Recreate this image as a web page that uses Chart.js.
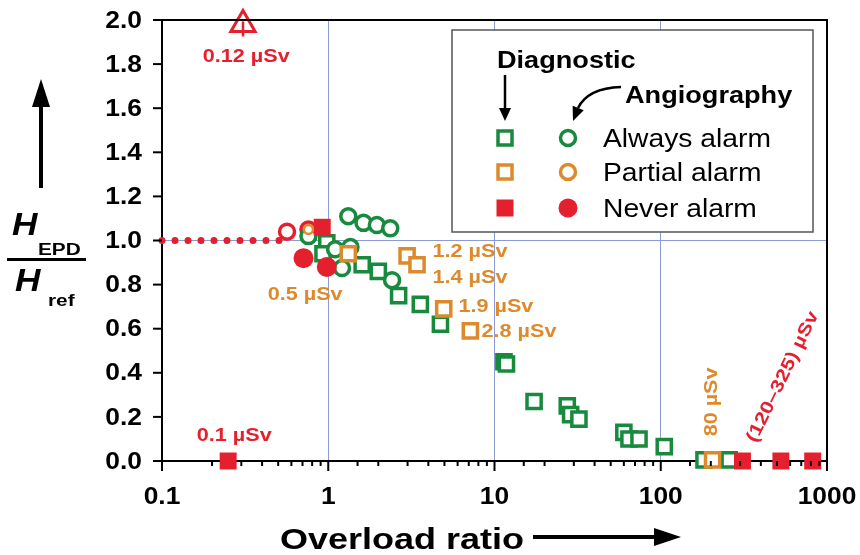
<!DOCTYPE html>
<html>
<head>
<meta charset="utf-8">
<script src="https://cdn.jsdelivr.net/npm/chart.js@4.4.1/dist/chart.umd.min.js"></script>
<style>
  html, body { margin: 0; padding: 0; background: #fff; }
  #chart { display: block; }
</style>
</head>
<body>
<canvas id="chart" width="860" height="555"></canvas>
<script>
// Diagnostic (squares)
const diagAlwaysX = [0.98, 0.93, 1.6, 2.0, 2.65, 3.58, 4.73, 11.4, 11.8, 17.3, 27.4, 28.7, 32.2, 60, 64.4, 74, 105, 182, 258];
const diagAlwaysY = [0.99, 0.94, 0.89, 0.86, 0.75, 0.71, 0.62, 0.45, 0.44, 0.27, 0.25, 0.21, 0.19, 0.13, 0.10, 0.10, 0.065, 0.005, 0.005];
const diagPartialX = [1.32, 2.98, 3.42, 4.95, 7.16, 205];
const diagPartialY = [0.94, 0.93, 0.89, 0.69, 0.59, 0.005];
const diagNeverX = [0.25, 0.92, 310, 528, 820];
const diagNeverY = [0, 1.06, 0, 0, 0];

// Angiography (circles)
const angioAlwaysX = [1.32, 1.63, 1.96, 2.36, 0.76, 1.1, 1.36, 1.21, 2.42];
const angioAlwaysY = [1.11, 1.08, 1.07, 1.055, 1.02, 0.96, 0.97, 0.875, 0.82];
const angioPartialX = [0.76];
const angioPartialY = [1.05];
const angioNeverX = [0.71, 0.98];
const angioNeverY = [0.92, 0.88];
const openRedX = [0.565, 0.76];
const openRedY = [1.04, 1.05];
const offScaleX = [0.307];
const offScaleY = [1.98];

// red dotted reference at 1.0
const refX = [0.1, 0.52];
const refY = [1, 1];

const xTickValues = [0.1, 1, 10, 100, 1000];
const xTickLabels = ['0.1', '1', '10', '100', '1000'];
const yTickLabels = ['0.0', '0.2', '0.4', '0.6', '0.8', '1.0', '1.2', '1.4', '1.6', '1.8', '2.0'];

const notes = [
  { text: '0.12 µSv', x: 0.321, y: 1.81, color: 'red', align: 'center' },
  { text: '0.1 µSv', x: 0.272, y: 0.091, color: 'red', align: 'center' },
  { text: '0.5 µSv', x: 0.726, y: 0.73, color: 'orange', align: 'center' },
  { text: '1.2 µSv', x: 4.24, y: 0.925, color: 'orange', align: 'left' },
  { text: '1.4 µSv', x: 4.24, y: 0.807, color: 'orange', align: 'left' },
  { text: '1.9 µSv', x: 6.07, y: 0.676, color: 'orange', align: 'left' },
  { text: '2.8 µSv', x: 8.36, y: 0.562, color: 'orange', align: 'left' },
  { text: '80 µSv', x: 203, y: 0.268, color: 'orange', align: 'center', rot: -90 },
  { text: '(120–325) µSv', x: 543, y: 0.381, color: 'red', align: 'center', rot: -64 }
];

const GREEN = '#178a3e';
const ORANGE = '#dc8a2c';
const RED = '#e5202e';
const GRID = '#8c9bd6';
const COLORS = { red: RED, orange: ORANGE, green: GREEN };
const FONT = "'Liberation Sans', Arial, sans-serif";

const pts = (xs, ys) => xs.map((x, i) => ({ x: x, y: ys[i] }));
const isDecade = v => Math.abs(Math.log10(v) - Math.round(Math.log10(v))) < 1e-6;

function txt(ctx, s, x, y, opts) {
  ctx.save();
  ctx.translate(x, y);
  if (opts.rot) ctx.rotate(opts.rot * Math.PI / 180);
  ctx.scale(opts.sx || 1, 1);
  ctx.font = opts.font;
  ctx.fillStyle = opts.color || '#000';
  ctx.textAlign = opts.align || 'left';
  ctx.textBaseline = opts.baseline || 'alphabetic';
  ctx.fillText(s, 0, 0);
  ctx.restore();
}

function arrowHead(ctx, tx, ty, angle, len, half) {
  ctx.save();
  ctx.translate(tx, ty);
  ctx.rotate(angle);
  ctx.beginPath();
  ctx.moveTo(0, 0);
  ctx.lineTo(-len, -half);
  ctx.lineTo(-len, half);
  ctx.closePath();
  ctx.fill();
  ctx.restore();
}

const decorations = {
  id: 'decorations',
  afterDraw(chart) {
    const ctx = chart.ctx;
    const xs = chart.scales.x, ys = chart.scales.y;
    const a = chart.chartArea;

    ctx.save();
    // frame top/right
    ctx.strokeStyle = '#000';
    ctx.lineWidth = 2;
    ctx.beginPath();
    ctx.moveTo(a.left, a.top);
    ctx.lineTo(a.right, a.top);
    ctx.lineTo(a.right, a.bottom);
    ctx.stroke();

    // x ticks (log minor + major)
    xs.ticks.forEach(t => {
      const p = xs.getPixelForValue(t.value);
      const len = isDecade(t.value) ? 10 : 5;
      ctx.beginPath();
      ctx.moveTo(p, a.bottom);
      ctx.lineTo(p, a.bottom + len);
      ctx.stroke();
    });
    // y ticks
    ys.ticks.forEach(t => {
      const p = ys.getPixelForValue(t.value);
      ctx.beginPath();
      ctx.moveTo(a.left - 9, p);
      ctx.lineTo(a.left, p);
      ctx.stroke();
    });

    // tick labels
    xTickValues.forEach((v, i) => {
      txt(ctx, xTickLabels[i], xs.getPixelForValue(v), 497,
        { font: 'bold 24px ' + FONT, align: 'center', baseline: 'middle', sx: 1.1 });
    });
    yTickLabels.forEach(l => {
      txt(ctx, l, a.left - 20, ys.getPixelForValue(parseFloat(l)) + 1,
        { font: 'bold 24px ' + FONT, align: 'right', baseline: 'middle', sx: 1.1 });
    });

    // x title with arrow
    txt(ctx, 'Overload ratio', 280, 549, { font: 'bold 30px ' + FONT, sx: 1.2 });
    ctx.fillStyle = '#000';
    ctx.lineWidth = 4;
    ctx.beginPath();
    ctx.moveTo(533, 537);
    ctx.lineTo(660, 537);
    ctx.stroke();
    arrowHead(ctx, 681, 537, 0, 27, 9);

    // y title: H_EPD / H_ref with up arrow
    ctx.beginPath();
    ctx.moveTo(41, 188);
    ctx.lineTo(41, 100);
    ctx.stroke();
    arrowHead(ctx, 41, 79, -Math.PI / 2, 28, 9);
    txt(ctx, 'H', 12, 235, { font: 'italic bold 32px ' + FONT, sx: 1.1 });
    txt(ctx, 'EPD', 38, 255, { font: 'bold 16px ' + FONT, sx: 1.3 });
    ctx.fillRect(7, 258, 79, 3);
    txt(ctx, 'H', 15, 291, { font: 'italic bold 32px ' + FONT, sx: 1.1 });
    txt(ctx, 'ref', 48, 306, { font: 'bold 16px ' + FONT, sx: 1.3 });

    // stem inside the off-scale triangle
    const tx = xs.getPixelForValue(offScaleX[0]);
    const ty = ys.getPixelForValue(offScaleY[0]);
    ctx.strokeStyle = RED;
    ctx.lineWidth = 2.5;
    ctx.beginPath();
    ctx.moveTo(tx, ty - 3);
    ctx.lineTo(tx, ty + 12);
    ctx.stroke();

    // value notes
    notes.forEach(n => {
      const px = xs.getPixelForValue(n.x);
      const py = ys.getPixelForValue(n.y);
      txt(ctx, n.text, px, py, {
        font: 'bold 18px ' + FONT, color: COLORS[n.color], align: n.align,
        baseline: n.rot ? 'middle' : 'alphabetic', sx: 1.2, rot: n.rot
      });
    });

    // legend box
    ctx.fillStyle = '#fff';
    ctx.fillRect(452, 30, 361, 202);
    ctx.strokeStyle = '#555';
    ctx.lineWidth = 1.5;
    ctx.strokeRect(452, 30, 361, 202);

    txt(ctx, 'Diagnostic', 497, 68, { font: 'bold 24px ' + FONT, sx: 1.13 });
    txt(ctx, 'Angiography', 625, 103, { font: 'bold 24px ' + FONT, sx: 1.13 });
    ctx.strokeStyle = '#000';
    ctx.fillStyle = '#000';
    ctx.lineWidth = 2.5;
    ctx.beginPath();
    ctx.moveTo(505, 75);
    ctx.lineTo(505, 110);
    ctx.stroke();
    arrowHead(ctx, 505, 121, Math.PI / 2, 13, 6);
    ctx.beginPath();
    ctx.moveTo(621, 87);
    ctx.quadraticCurveTo(588, 88, 578, 108);
    ctx.stroke();
    arrowHead(ctx, 573, 121, 1.95, 14, 6);

    const rows = [
      { label: 'Always alarm', color: GREEN, filled: false },
      { label: 'Partial alarm', color: ORANGE, filled: false },
      { label: 'Never alarm', color: RED, filled: true }
    ];
    const rowY = [138, 172, 208];
    rows.forEach((r, i) => {
      const y = rowY[i];
      ctx.lineWidth = 3.5;
      ctx.strokeStyle = r.color;
      ctx.fillStyle = r.color;
      if (r.filled) {
        ctx.fillRect(505 - 8.5, y - 8.5, 17, 17);
        ctx.beginPath();
        ctx.arc(568, y, 9.5, 0, Math.PI * 2);
        ctx.fill();
      } else {
        ctx.strokeRect(505 - 7, y - 7, 14, 14);
        ctx.beginPath();
        ctx.arc(568, y, 7.5, 0, Math.PI * 2);
        ctx.stroke();
      }
      txt(ctx, r.label, 603, y + 9, { font: '25px ' + FONT, sx: 1.13 });
    });
    ctx.restore();
  }
};

const openSquare = (data, color, order) => ({
  data: data, order: order, clip: false,
  pointStyle: 'rect', pointRadius: 10, borderWidth: 3.5,
  borderColor: color, backgroundColor: '#fff'
});
const openCircle = (data, color, order, r) => ({
  data: data, order: order, clip: false,
  pointStyle: 'circle', pointRadius: r, borderWidth: 3.5,
  borderColor: color, backgroundColor: '#fff'
});

new Chart(document.getElementById('chart').getContext('2d'), {
  type: 'scatter',
  data: {
    datasets: [
      {
        type: 'line', data: pts(refX, refY), order: 9, clip: false,
        borderColor: RED, borderWidth: 7, borderDash: [0, 13], borderCapStyle: 'round',
        pointRadius: 0, fill: false
      },
      openSquare(pts(diagAlwaysX, diagAlwaysY), GREEN, 6),
      openCircle(pts(angioAlwaysX, angioAlwaysY), GREEN, 5, 7.5),
      openSquare(pts(diagPartialX, diagPartialY), ORANGE, 4),
      openCircle(pts(openRedX, openRedY), RED, 7, 7.5),
      {
        data: pts(diagNeverX, diagNeverY), order: 2, clip: false,
        pointStyle: 'rect', pointRadius: 12, borderWidth: 0,
        backgroundColor: RED
      },
      {
        data: pts(angioNeverX, angioNeverY), order: 1, clip: false,
        pointStyle: 'circle', pointRadius: 10, borderWidth: 0,
        backgroundColor: RED
      },
      {
        data: pts(angioPartialX, angioPartialY), order: 0, clip: false,
        pointStyle: 'circle', pointRadius: 4.5, borderWidth: 2.5,
        borderColor: ORANGE, backgroundColor: '#fff'
      },
      {
        data: pts(offScaleX, offScaleY), order: 0, clip: false,
        pointStyle: 'triangle', pointRadius: 14, borderWidth: 3,
        borderColor: RED, backgroundColor: '#fff'
      }
    ]
  },
  options: {
    responsive: false,
    animation: false,
    layout: { padding: { left: 0, right: 33, top: 20, bottom: 0 } },
    plugins: { legend: { display: false }, tooltip: { enabled: false } },
    scales: {
      x: {
        type: 'logarithmic', min: 0.1, max: 1000,
        afterFit: s => { s.height = 94; },
        ticks: { display: false },
        grid: {
          drawTicks: false, lineWidth: 1,
          color: c => (c.tick && c.tick.value > 0.1 && c.tick.value < 1000 && isDecade(c.tick.value)) ? GRID : 'rgba(0,0,0,0)'
        },
        border: { color: '#000', width: 2 }
      },
      y: {
        min: 0, max: 2,
        afterFit: s => { s.width = 162; },
        ticks: { display: false, stepSize: 0.2 },
        grid: {
          drawTicks: false, lineWidth: 1,
          color: c => (c.tick && Math.abs(c.tick.value - 1) < 1e-6) ? GRID : 'rgba(0,0,0,0)'
        },
        border: { color: '#000', width: 2 }
      }
    }
  },
  plugins: [decorations]
});
</script>
</body>
</html>
